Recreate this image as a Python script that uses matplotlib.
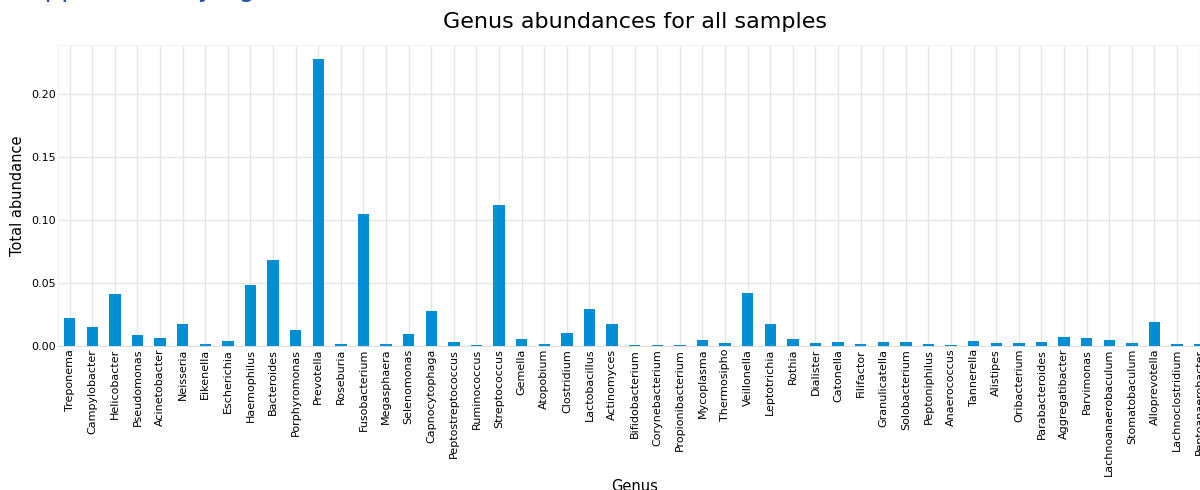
import matplotlib
matplotlib.use("Agg")
import matplotlib.pyplot as plt
import numpy as np

genera = [
    "Treponema", "Campylobacter", "Helicobacter", "Pseudomonas", "Acinetobacter",
    "Neisseria", "Eikenella", "Escherichia", "Haemophilus", "Bacteroides",
    "Porphyromonas", "Prevotella", "Roseburia", "Fusobacterium", "Megasphaera",
    "Selenomonas", "Capnocytophaga", "Peptostreptococcus", "Ruminococcus",
    "Streptococcus", "Gemella", "Atopobium", "Clostridium", "Lactobacillus",
    "Actinomyces", "Bifidobacterium", "Corynebacterium", "Propionibacterium",
    "Mycoplasma", "Thermosipho", "Veillonella", "Leptotrichia", "Rothia",
    "Dialister", "Catonella", "Filifactor", "Granulicatella", "Solobacterium",
    "Peptoniphilus", "Anaerococcus", "Tannerella", "Alistipes", "Oribacterium",
    "Parabacteroides", "Aggregatibacter", "Parvimonas", "Lachnoanaerobaculum",
    "Stomatobaculum", "Alloprevotella", "Lachnoclostridium", "Peptoanaerobacter",
]

abundance = [
    0.0220, 0.0151, 0.0410, 0.0085, 0.0061,
    0.0177, 0.0018, 0.0042, 0.0484, 0.0680,
    0.0130, 0.2276, 0.0018, 0.1048, 0.0016,
    0.0098, 0.0278, 0.0034, 0.0010,
    0.1120, 0.0053, 0.0016, 0.0103, 0.0294,
    0.0172, 0.0010, 0.0010, 0.0010,
    0.0045, 0.0024, 0.0418, 0.0177, 0.0053,
    0.0026, 0.0032, 0.0016, 0.0032, 0.0034,
    0.0013, 0.0010, 0.0037, 0.0026, 0.0020,
    0.0030, 0.0074, 0.0063, 0.0045,
    0.0026, 0.0188, 0.0018, 0.0013,
]

title = "Genus abundances for all samples"
xlabel = "Genus"
ylabel = "Total abundance"
header = "Supplementary figure"

W, H = 1200, 490
fig = plt.figure(figsize=(W / 100, H / 100), dpi=100)
fig.patch.set_facecolor("white")

left_px, right_px, top_px, bottom_px = 58.4, 1211.0, 45.0, 346.0
ax = fig.add_axes([left_px / W, 1 - bottom_px / H,
                   (right_px - left_px) / W, (bottom_px - top_px) / H])
ax.set_facecolor("white")

x = np.arange(len(genera))
ax.bar(x, abundance, width=0.5, color="#008fd5", zorder=3)
ax.set_xlim(-0.5, len(genera) - 0.5)
ax.margins(y=0.05)

ax.set_xticks(x)
ax.set_xticklabels(genera, rotation=90, fontsize=8)
ax.set_yticks([0.0, 0.05, 0.10, 0.15, 0.20])
ax.set_yticklabels(["0.00", "0.05", "0.10", "0.15", "0.20"], fontsize=8)
ax.tick_params(axis="both", length=0, pad=2)

ax.grid(True, color="#e5e5e5", linewidth=1, zorder=0)
ax.set_axisbelow(True)
for side in ["left", "right", "top"]:
    ax.spines[side].set_color("#f2f2f2")
ax.spines["bottom"].set_color("#e0e0e0")

ax.set_title(title, fontsize=16, pad=12)
ax.set_xlabel(xlabel, fontsize=10.5, labelpad=2)
ax.set_ylabel(ylabel, fontsize=10.5, labelpad=4)

fig.text(11 / W, 1 + 3.5 / H, header, fontsize=19, color="#2a57a0",
         va="baseline", ha="left")

fig.savefig("out.png", dpi=100)
